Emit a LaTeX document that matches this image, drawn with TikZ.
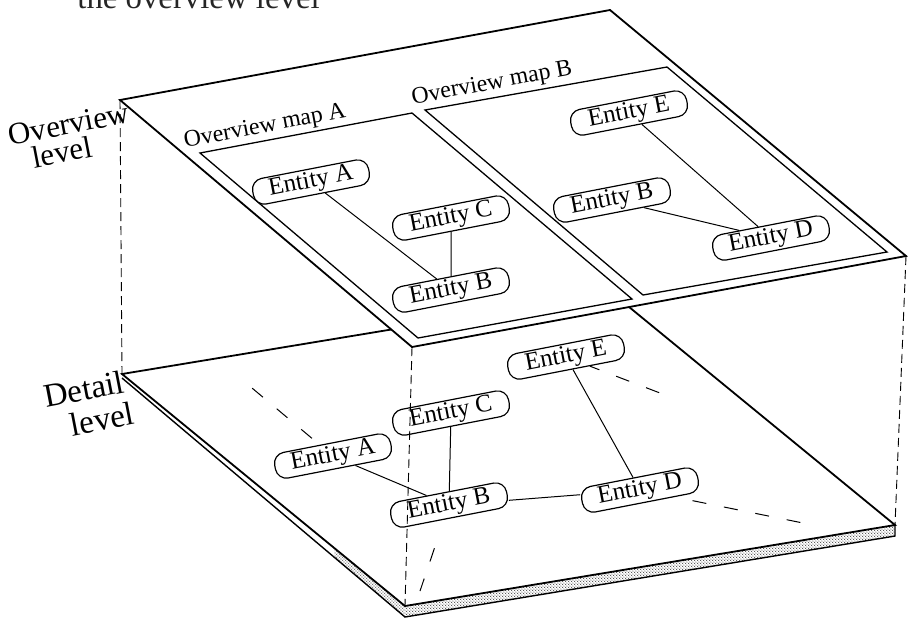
\documentclass[tikz,border=0pt]{standalone}
\usepackage{fontspec}
\setmainfont{Liberation Serif}
\usetikzlibrary{calc,patterns.meta}

% fine stipple for the edge of the detail plate
\tikzdeclarepattern{
  name=finedots,
  type=uncolored,
  bounding box={(0pt,0pt) and (1.4pt,1.4pt)},
  tile size={(1.4pt,1.4pt)},
  code={\fill (0.35pt,0.35pt) circle (0.3pt); \fill (1.05pt,1.05pt) circle (0.3pt);}
}

\begin{document}
\begin{tikzpicture}[x=0.5pt, y=-0.5pt,
  plate/.style={draw, line width=0.9pt, fill=white},
  side/.style={draw, line width=0.7pt},
  mapframe/.style={draw, line width=0.65pt},
  entity/.style={draw, line width=0.6pt, rounded corners=5.5pt, rotate=11,
    minimum width=59pt, minimum height=13pt, inner sep=0.5pt,
    font=\fontsize{12.5}{14}\selectfont},
  link/.style={line width=0.5pt},
  farlink/.style={line width=0.5pt, dash pattern=on 7pt off 9pt},
  drop/.style={line width=0.45pt, dash pattern=on 4.5pt off 2.5pt},
  maplabel/.style={rotate=10.7, inner sep=0pt, font=\fontsize{11.9}{14}\selectfont},
  levellabel/.style={rotate=11, inner sep=0pt, font=\fontsize{15.5}{18}\selectfont},
]
\useasboundingbox (0,0) rectangle (908,623);

% running text of the page, cut by the top margin
\node[anchor=base west, inner sep=0pt, font=\fontsize{16.4}{20}\selectfont, text=black!85]
  (runhead) at (77,8) {the overview level};

% corners of the overview plate
\coordinate (L) at (120,100);
\coordinate (T) at (610,10);
\coordinate (R) at (906,256);
\coordinate (F) at (412,347);
% corners of the detail plate (top face and underside)
\coordinate (L2) at (122,374);
\coordinate (T2) at (612,293);
\coordinate (R2) at (895,525);
\coordinate (F2) at (405,606);
\coordinate (L2b) at (122,378);
\coordinate (F2b) at (405,617);
\coordinate (R2b) at (895,536);
\coordinate (P2) at ($(L2)!0.75!(F2)$);
\coordinate (P2b) at ($(L2b)!0.75!(F2b)$);

% ---------------- detail plate ----------------
\fill[white] (L2) -- (F2) -- (F2b) -- (L2b) -- cycle;
\fill[pattern=finedots, pattern color=black!70] (P2) -- (F2) -- (F2b) -- (P2b) -- cycle;
\fill[pattern=finedots, pattern color=black!70] (F2) -- (R2) -- (R2b) -- (F2b) -- cycle;
\draw[side] (L2b) -- (F2b) -- (R2b) -- (R2);
\draw[plate] (L2) -- (T2) -- (R2) -- (F2) -- cycle;

\node[entity] (lE) at (566,357) {Entity E};
\node[entity] (lC) at (451,413) {Entity C};
\node[entity] (lA) at (333,456) {Entity A};
\node[entity] (lB) at (449,505) {Entity B};
\node[entity] (lD) at (640,490) {Entity D};

\draw[link] (lA) -- (lB);
\draw[link] (lC) -- (lB);
\draw[link] (lE) -- (lD);
\draw[link] (lB) -- (lD);

% links leading away from the shown part of the detail map
\coordinate (xA) at (252,388);
\coordinate (xE) at (660,393);
\coordinate (xD) at (803,523);
\coordinate (xB) at (420,591);
\draw[farlink, dash phase=11pt] (lA) -- (xA);
\draw[farlink, dash phase=2pt] (lE) -- (xE);
\draw[farlink, dash phase=7pt] (lD) -- (xD);
\draw[farlink, dash phase=7pt, shorten <=6pt] (lB) -- (xB);

% projection lines between the two levels
\draw[drop] (L) -- (L2);
\draw[drop] (F) -- (F2);
\draw[drop] (R) -- (R2);

% ---------------- overview plate ----------------
\draw[plate] (L) -- (T) -- (R) -- (F) -- cycle;

\draw[mapframe] (200,153) coordinate (mA1) -- (412,113) coordinate (mA2)
  -- (632,299) coordinate (mA3) -- (418,338) coordinate (mA4) -- cycle;
\draw[mapframe] (425,110) coordinate (mB1) -- (667,67) coordinate (mB2)
  -- (887,252) coordinate (mB3) -- (643,295) coordinate (mB4) -- cycle;
\node[maplabel] (mapA) at (265,127) {Overview map A};
\node[maplabel] (mapB) at (492,84) {Overview map B};

\node[entity] (uA) at (311,182) {Entity A};
\node[entity] (uC) at (451,218) {Entity C};
\node[entity] (uB) at (451,290) {Entity B};
\node[entity] (uE) at (629,113) {Entity E};
\node[entity] (uB2) at (612,200) {Entity B};
\node[entity] (uD) at (771,238) {Entity D};

\draw[link] (uA) -- (uB);
\draw[link] (uC) -- (uB);
\draw[link] (uE) -- (uD);
\draw[link] (uB2) -- (uD);

% level names
\node[levellabel] (ovw) at (69,124) {Overview};
\node[levellabel] (ovl) at (62,152) {level};
\node[levellabel, font=\fontsize{16.5}{19}\selectfont] (dtw) at (84,389) {Detail};
\node[levellabel, font=\fontsize{16.5}{19}\selectfont] (dtl) at (102,419) {level};
\end{tikzpicture}
\end{document}
